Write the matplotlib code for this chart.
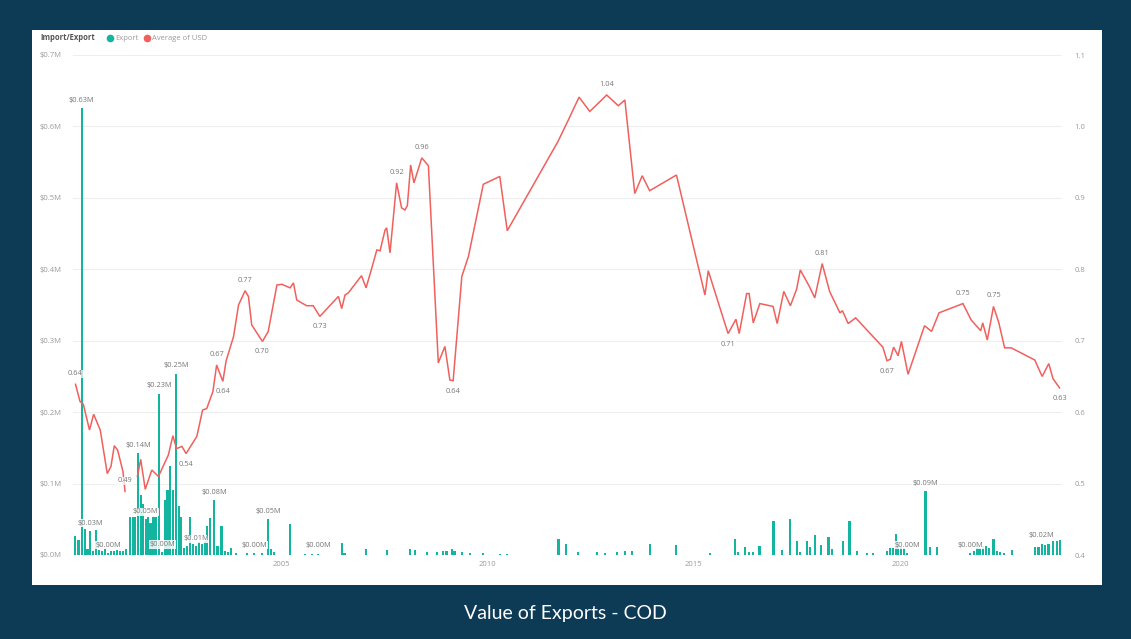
import numpy as np
import matplotlib.pyplot as plt
from matplotlib.patches import Rectangle
from matplotlib.lines import Line2D

# export value per shipment date (decimal year, $M)
bar_years = [2000.01, 2000.09, 2000.17, 2000.25, 2000.31, 2000.37, 2000.44, 2000.52, 2000.59, 2000.66,
             2000.74, 2000.81, 2000.88, 2000.95, 2001.03, 2001.10, 2001.17, 2001.24, 2001.34, 2001.41,
             2001.47, 2001.54, 2001.60, 2001.66, 2001.72, 2001.78, 2001.84, 2001.90, 2001.96, 2002.05,
             2002.12, 2002.19, 2002.25, 2002.31, 2002.38, 2002.46, 2002.52, 2002.58, 2002.65, 2002.72,
             2002.80, 2002.87, 2002.94, 2003.01, 2003.09, 2003.15, 2003.21, 2003.28, 2003.38, 2003.46,
             2003.56, 2003.64, 2003.72, 2003.79, 2003.91, 2004.18, 2004.35, 2004.54, 2004.69, 2004.76,
             2004.83, 2005.22, 2005.58, 2005.75, 2005.90, 2006.47, 2006.54, 2007.06, 2007.56, 2008.13,
             2008.25, 2008.53, 2008.77, 2008.93, 2009.01, 2009.14, 2009.20, 2009.38, 2009.58, 2009.90,
             2010.31, 2010.48, 2011.72, 2011.91, 2012.20, 2012.66, 2012.85, 2013.14, 2013.34, 2013.51,
             2013.94, 2014.57, 2015.40, 2016.00, 2016.07, 2016.24, 2016.33, 2016.44, 2016.59, 2016.93,
             2017.13, 2017.33, 2017.50, 2017.58, 2017.74, 2017.82, 2017.94, 2018.08, 2018.26, 2018.34,
             2018.61, 2018.77, 2018.95, 2019.19, 2019.35, 2019.68, 2019.76, 2019.83, 2019.89, 2019.95,
             2020.02, 2020.10, 2020.17, 2020.61, 2020.73, 2020.89, 2021.70, 2021.78, 2021.87, 2021.94,
             2022.01, 2022.08, 2022.16, 2022.26, 2022.34, 2022.42, 2022.52, 2022.71, 2023.27, 2023.35,
             2023.43, 2023.51, 2023.59, 2023.71, 2023.80, 2023.88]
bar_values = [0.027, 0.021, 0.626, 0.036, 0.008, 0.034, 0.006, 0.035, 0.007, 0.006,
              0.008, 0.003, 0.006, 0.005, 0.007, 0.006, 0.005, 0.008, 0.053, 0.053,
              0.053, 0.143, 0.084, 0.072, 0.050, 0.053, 0.045, 0.053, 0.053, 0.226,
              0.004, 0.077, 0.091, 0.124, 0.091, 0.254, 0.068, 0.053, 0.010, 0.012,
              0.053, 0.015, 0.012, 0.018, 0.015, 0.020, 0.040, 0.052, 0.077, 0.012,
              0.040, 0.005, 0.004, 0.010, 0.003, 0.003, 0.003, 0.003, 0.050, 0.008,
              0.004, 0.043, 0.002, 0.002, 0.002, 0.017, 0.003, 0.008, 0.007, 0.008,
              0.007, 0.004, 0.004, 0.006, 0.005, 0.009, 0.005, 0.004, 0.003, 0.003,
              0.002, 0.002, 0.022, 0.015, 0.004, 0.004, 0.003, 0.004, 0.005, 0.005,
              0.015, 0.014, 0.003, 0.022, 0.004, 0.011, 0.004, 0.004, 0.013, 0.047,
              0.007, 0.050, 0.019, 0.004, 0.019, 0.011, 0.028, 0.014, 0.025, 0.008,
              0.019, 0.047, 0.005, 0.003, 0.003, 0.006, 0.010, 0.010, 0.030, 0.012,
              0.011, 0.010, 0.003, 0.089, 0.011, 0.011, 0.003, 0.005, 0.010, 0.010,
              0.012, 0.012, 0.010, 0.022, 0.006, 0.004, 0.003, 0.007, 0.011, 0.011,
              0.016, 0.014, 0.016, 0.019, 0.020, 0.021]

# average USD rate (gap = no data)
line_years = [2000.02, 2000.13, 2000.21, 2000.36, 2000.46, 2000.62, 2000.79, 2000.88, 2000.96, 2001.04,
              2001.17, 2001.22, 2001.35, 2001.52, 2001.60, 2001.71, 2001.87, 2002.03, 2002.27, 2002.38,
              2002.47, 2002.60, 2002.70, 2002.96, 2003.10, 2003.20, 2003.35, 2003.44, 2003.59, 2003.67,
              2003.85, 2003.97, 2004.13, 2004.21, 2004.29, 2004.55, 2004.69, 2004.90, 2005.02, 2005.22,
              2005.30, 2005.38, 2005.62, 2005.78, 2005.94, 2006.39, 2006.47, 2006.55, 2006.63, 2006.95,
              2007.06, 2007.20, 2007.32, 2007.40, 2007.52, 2007.56, 2007.64, 2007.80, 2007.92, 2008.00,
              2008.06, 2008.14, 2008.22, 2008.41, 2008.57, 2008.81, 2008.97, 2009.09, 2009.17, 2009.38,
              2009.54, 2009.90, 2010.30, 2010.48, 2011.71, 2011.96, 2012.22, 2012.48, 2012.89, 2013.17,
              2013.33, 2013.57, 2013.75, 2013.93, 2014.58, 2015.27, 2015.35, 2015.83, 2016.02, 2016.10,
              2016.28, 2016.34, 2016.44, 2016.60, 2016.92, 2017.02, 2017.18, 2017.34, 2017.49, 2017.58,
              2017.79, 2017.93, 2018.11, 2018.29, 2018.54, 2018.60, 2018.74, 2018.92, 2019.58, 2019.68,
              2019.76, 2019.84, 2019.95, 2020.03, 2020.19, 2020.59, 2020.76, 2020.94, 2021.52, 2021.72,
              2021.95, 2022.00, 2022.11, 2022.26, 2022.39, 2022.53, 2022.69, 2023.26, 2023.44, 2023.60,
              2023.70, 2023.86]
line_values = [0.639, 0.615, 0.611, 0.575, 0.597, 0.575, 0.514, 0.524, 0.553, 0.547,
               0.517, 0.489, np.nan, 0.510, 0.534, 0.492, 0.519, 0.510, 0.540, 0.567,
               0.549, 0.552, 0.542, 0.566, 0.603, 0.605, 0.629, 0.666, 0.643, 0.672,
               0.706, 0.750, 0.770, 0.762, 0.722, 0.699, 0.713, 0.778, 0.779, 0.774,
               0.781, 0.757, 0.749, 0.749, 0.734, 0.762, 0.745, 0.764, 0.767, 0.791,
               0.774, 0.802, 0.827, 0.826, 0.855, 0.858, 0.823, 0.921, 0.886, 0.883,
               0.889, 0.946, 0.921, 0.956, 0.945, 0.669, 0.692, 0.645, 0.644, 0.790,
               0.818, 0.919, 0.930, 0.854, 0.979, 1.009, 1.041, 1.021, 1.044, 1.029,
               1.037, 0.906, 0.931, 0.910, 0.932, 0.764, 0.798, 0.710, 0.730, 0.710,
               0.766, 0.766, 0.725, 0.752, 0.748, 0.724, 0.769, 0.749, 0.772, 0.799,
               0.777, 0.760, 0.808, 0.769, 0.739, 0.742, 0.724, 0.732, 0.691, 0.672,
               0.674, 0.691, 0.679, 0.699, 0.653, 0.721, 0.713, 0.739, 0.752, 0.729,
               0.714, 0.725, 0.701, 0.748, 0.725, 0.690, 0.690, 0.673, 0.650, 0.668,
               0.647, 0.634]

# which points carry a data label
bar_label_years = [2000.17, 2000.37, 2000.81, 2001.54, 2001.72, 2002.05, 2002.12, 2002.46, 2002.94,
                   2003.38, 2004.35, 2004.69, 2005.90, 2020.17, 2020.61, 2021.70, 2023.43]
line_label_years = [2000.02, 2001.22, 2002.70, 2003.44, 2003.59, 2004.13, 2004.55, 2005.94, 2007.80,
                    2008.41, 2009.17, 2012.89, 2015.83, 2018.11, 2019.68, 2021.52, 2022.26, 2023.86]
line_label_below = [2002.70, 2003.59, 2004.55, 2005.94, 2009.17, 2015.83, 2019.68, 2023.86]

NAVY = '#0d3b56'
TEAL = '#13b5a0'
RED = '#f0605d'
GREY = '#9a9a9a'
FONT = 'Open Sans'

W, H = 1131, 639
fig = plt.figure(figsize=(W / 100, H / 100), dpi=100)
fig.patch.set_facecolor(NAVY)
fig.patches.append(Rectangle((32 / W, 1 - 585 / H), (1102 - 32) / W, (585 - 30) / H,
                             transform=fig.transFigure, fc='white', ec='none', zorder=-10))

ax = fig.add_axes([73 / W, 1 - 555 / H, (1062 - 73) / W, 500 / H])
ax.set_facecolor('none')
ax.bar(bar_years, bar_values, width=0.055, color=TEAL, zorder=2)
ax.set_xlim(1999.96, 2023.92)
ax.set_ylim(0, 0.7)
ax.set_yticks(np.arange(0, 0.71, 0.1))
ax.set_yticklabels(['$%.1fM' % v for v in np.arange(0, 0.71, 0.1)])
ax.set_xticks([2005, 2010, 2015, 2020])
ax.set_xticklabels(['2005', '2010', '2015', '2020'])
ax.yaxis.grid(True, color='#eeeeee', lw=0.8, zorder=0)
ax.set_axisbelow(True)
ax.tick_params(axis='y', length=0, pad=8, labelsize=5.5, labelcolor=GREY)
ax.tick_params(axis='x', length=0, pad=4, labelsize=5.5, labelcolor=GREY)
for lab in ax.get_xticklabels() + ax.get_yticklabels():
    lab.set_family(FONT)
for s in ax.spines.values():
    s.set_visible(False)

for yr in bar_label_years:
    v = bar_values[bar_years.index(yr)]
    ax.annotate('$%.2fM' % v, (yr, v), xytext=(0, 3), textcoords='offset points',
                ha='center', va='bottom', fontsize=5.3, color='#777777', family=FONT, zorder=5,
                bbox=dict(fc='white', ec='none', pad=0.4, alpha=0.85))

ax2 = ax.twinx()
ax2.plot(line_years, line_values, color=RED, lw=1.1, solid_joinstyle='miter', zorder=3)
ax2.set_ylim(0.4, 1.1)
ax2.set_yticks(np.arange(0.4, 1.11, 0.1))
ax2.set_yticklabels(['%.1f' % v for v in np.arange(0.4, 1.11, 0.1)])
ax2.tick_params(axis='y', length=0, pad=9, labelsize=5.5, labelcolor=GREY)
for lab in ax2.get_yticklabels():
    lab.set_family(FONT)
for s in ax2.spines.values():
    s.set_visible(False)

for yr in line_label_years:
    v = line_values[line_years.index(yr)]
    below = yr in line_label_below
    ax2.annotate('%.2f' % v, (yr, v), xytext=(0, -5 if below else 5), textcoords='offset points',
                 ha='center', va='top' if below else 'bottom', fontsize=5.3, color='#777777',
                 family=FONT, zorder=6, bbox=dict(fc='white', ec='none', pad=0.3, alpha=0.7))

# legend row
fig.text(40 / W, 1 - 38 / H, 'Import/Export', fontsize=5.5, color='#555555', weight='bold',
         family=FONT, va='center')
fig.add_artist(Line2D([110 / W], [1 - 38 / H], marker='o', ms=4.5, color=TEAL,
                      transform=fig.transFigure))
fig.text(115 / W, 1 - 38 / H, 'Export', fontsize=5.5, color=GREY, family=FONT, va='center')
fig.add_artist(Line2D([147 / W], [1 - 38 / H], marker='o', ms=4.5, color=RED,
                      transform=fig.transFigure))
fig.text(152 / W, 1 - 38 / H, 'Average of USD', fontsize=5.5, color=GREY, family=FONT, va='center')

fig.text(565 / W, 1 - 613 / H, 'Value of Exports - COD', fontsize=14, color='white',
         family='Lato', ha='center', va='center')

fig.savefig('out.png', dpi=100, facecolor=NAVY)
